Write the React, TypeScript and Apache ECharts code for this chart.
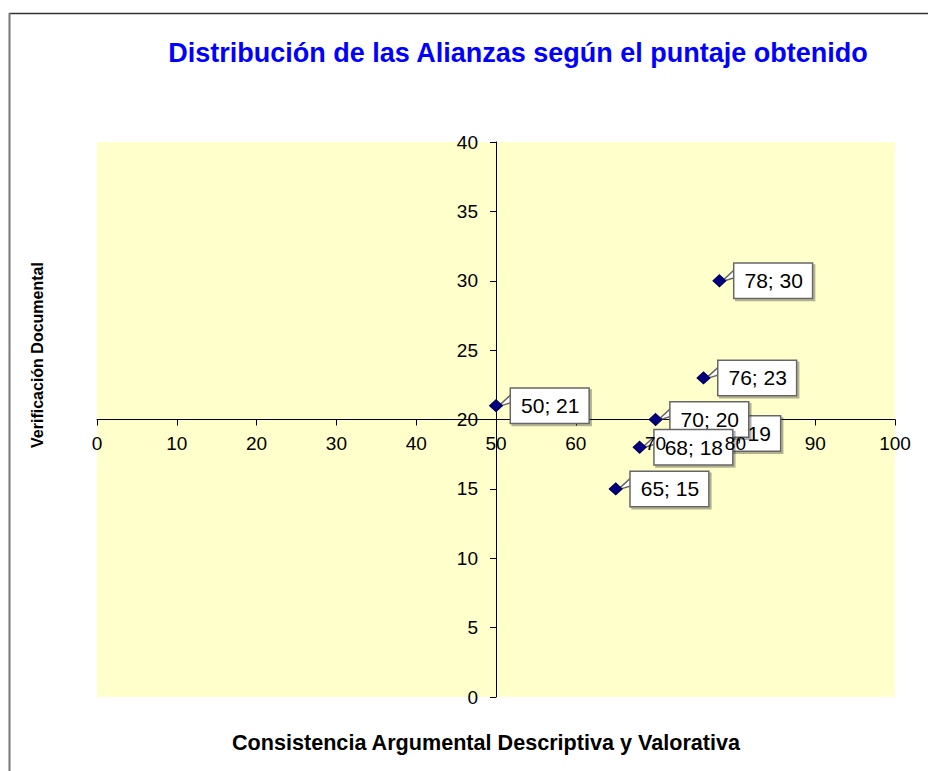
import React, { useEffect, useRef } from "react";
import * as echarts from "echarts";

const titleText = "Distribución de las Alianzas según el puntaje obtenido";
const xTitle = "Consistencia Argumental Descriptiva y Valorativa";
const yTitle = "Verificación Documental";
const xValues = [50, 78, 76, 74, 70, 68, 65];
const yValues = [21, 30, 23, 19, 20, 18, 15];

const FONT = "'Liberation Sans', Arial, sans-serif";

export default function App() {
  const ref = useRef<HTMLDivElement>(null);
  useEffect(() => {
    if (!ref.current) return;
    const chart = echarts.init(ref.current, undefined, { renderer: "svg" });
    const data = xValues.map((x, i) => [x, yValues[i]]);
    const axisCommon = {
      type: "value",
      min: 0,
      max: 100,
      interval: 10,
      position: "bottom",
      offset: -277.5,
      splitLine: { show: false },
    };
    chart.setOption({
      animation: false,
      backgroundColor: "#ffffff",
      textStyle: { fontFamily: FONT },
      graphic: [
        {
          type: "line",
          shape: { x1: 9, y1: 13.5, x2: 928, y2: 13.5 },
          style: { stroke: "#333", lineWidth: 1.5 },
          z: 100,
        },
        {
          type: "line",
          shape: { x1: 9.5, y1: 13, x2: 9.5, y2: 771 },
          style: { stroke: "#777", lineWidth: 2 },
          z: 100,
        },
        {
          type: "text",
          x: 518,
          y: 53,
          style: {
            text: titleText,
            fill: "#0000ff",
            font: `bold 27px ${FONT}`,
            textAlign: "center",
            textVerticalAlign: "middle",
          },
        },
        {
          type: "text",
          x: 486,
          y: 742,
          style: {
            text: xTitle,
            fill: "#000",
            font: `bold 21.6px ${FONT}`,
            textAlign: "center",
            textVerticalAlign: "middle",
          },
        },
        {
          type: "text",
          x: 37,
          y: 355,
          rotation: Math.PI / 2,
          style: {
            text: yTitle,
            fill: "#000",
            font: `bold 16px ${FONT}`,
            textAlign: "center",
            textVerticalAlign: "middle",
          },
        },
      ],
      grid: {
        left: 97,
        top: 142,
        width: 798,
        height: 555,
        show: true,
        backgroundColor: "#ffffcc",
        borderWidth: 0,
      },
      xAxis: [
        {
          ...axisCommon,
          axisLine: { onZero: false, lineStyle: { color: "#000", width: 1 } },
          axisTick: { show: true, length: 6, lineStyle: { color: "#000" } },
          axisLabel: { show: false },
          z: 0,
        },
        {
          ...axisCommon,
          axisLine: { show: false, onZero: false },
          axisTick: { show: false },
          axisLabel: { color: "#000", fontSize: 19, margin: 14, fontFamily: FONT },
          z: 50,
        },
      ],
      yAxis: {
        type: "value",
        min: 0,
        max: 40,
        interval: 5,
        position: "left",
        offset: -399,
        axisLine: { onZero: false, show: true, lineStyle: { color: "#000", width: 1 } },
        axisTick: { show: true, length: 6, lineStyle: { color: "#000" } },
        axisLabel: { color: "#000", fontSize: 19, margin: 18, fontFamily: FONT },
        splitLine: { show: false },
      },
      series: [
        {
          type: "custom",
          xAxisIndex: 0,
          data,
          z: 3,
          renderItem: (params: any, api: any) => {
            const p = api.coord([api.value(0), api.value(1)]);
            return {
              type: "polygon",
              shape: {
                points: [
                  [p[0] + 2, p[1] + 1],
                  [p[0] + 15, p[1] - 11],
                  [p[0] + 15, p[1] - 3],
                ],
              },
              style: { fill: "#ffffff", stroke: "#666", lineWidth: 1.5 },
            };
          },
        },
        {
          type: "scatter",
          xAxisIndex: 0,
          data,
          z: 4,
          symbol: "diamond",
          symbolSize: [13, 12],
          itemStyle: { color: "#000080", borderColor: "#00004a", borderWidth: 1, opacity: 1 },
          label: {
            show: true,
            position: "right",
            distance: 8,
            formatter: (p: any) => `${p.value[0]}; ${p.value[1]}`,
            color: "#000",
            fontSize: 21,
            fontFamily: FONT,
            backgroundColor: "#ffffff",
            borderColor: "#666",
            borderWidth: 1.5,
            padding: [7, 9, 6, 10],
            shadowColor: "rgba(0,0,0,0.3)",
            shadowOffsetX: 2,
            shadowOffsetY: 2,
            shadowBlur: 0,
          },
          emphasis: { disabled: true },
        },
      ],
    });
    return () => chart.dispose();
  }, []);
  return (
    <div
      ref={ref}
      style={{ position: "fixed", left: 0, top: 0, width: 928, height: 771 }}
    />
  );
}
